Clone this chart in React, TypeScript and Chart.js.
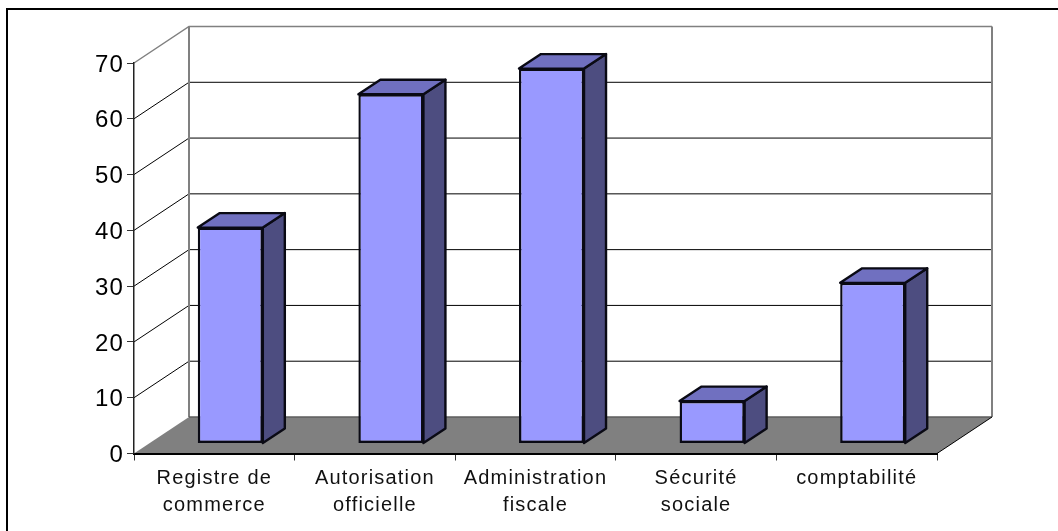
import React, { useEffect, useRef } from "react";
import { Chart, registerables } from "chart.js";

Chart.register(...registerables);

const categories = [
  ["Registre de", "commerce"],
  ["Autorisation", "officielle"],
  ["Administration", "fiscale"],
  ["Sécurité", "sociale"],
  ["comptabilité"],
];
const values = [38.7, 62.6, 67.2, 7.6, 28.8];

const WALL = { dx: 55, dy: -36.5 };
const BAR_OFFSET = { dx: 16, dy: -10 };
const BAR_DEPTH = { dx: 22, dy: -14.5 };
const GRAY = "#808080";
const FRONT = "#9999FF";
const SIDE = "#4D4D80";
const TOP = "#7070C0";
const EDGE = "#0a0a14";

const scene = {
  id: "scene",
  beforeDraw(chart: any) {
    const { ctx, scales } = chart;
    const { x, y } = scales;
    const L = x.left, R = x.right;
    const B = y.getPixelForValue(0);
    ctx.save();
    ctx.fillStyle = "#ffffff";
    ctx.fillRect(0, 0, chart.width, chart.height);
    // frame
    ctx.fillStyle = "#000";
    ctx.fillRect(6, 8, 1052, 2);
    ctx.fillRect(6, 8, 2, 523);
    // floor
    ctx.fillStyle = GRAY;
    ctx.beginPath();
    ctx.moveTo(L, B);
    ctx.lineTo(L + WALL.dx, B + WALL.dy);
    ctx.lineTo(R + WALL.dx, B + WALL.dy);
    ctx.lineTo(R, B);
    ctx.closePath();
    ctx.fill();
    // gridlines
    for (const t of y.ticks) {
      if (t.value === 0) continue;
      const py = y.getPixelForValue(t.value);
      const isTop = t.value === y.max;
      ctx.strokeStyle = isTop ? GRAY : "#000";
      ctx.lineWidth = isTop ? 1.5 : 1;
      ctx.beginPath();
      ctx.moveTo(L, py);
      ctx.lineTo(L + WALL.dx, py + WALL.dy);
      ctx.lineTo(R + WALL.dx, py + WALL.dy);
      ctx.stroke();
    }
    // wall uprights
    const T = y.getPixelForValue(y.max);
    ctx.strokeStyle = GRAY;
    ctx.lineWidth = 2;
    ctx.beginPath();
    ctx.moveTo(L + WALL.dx, T + WALL.dy);
    ctx.lineTo(L + WALL.dx, B + WALL.dy);
    ctx.moveTo(R + WALL.dx, T + WALL.dy);
    ctx.lineTo(R + WALL.dx, B + WALL.dy);
    ctx.stroke();
    // floor edges
    ctx.strokeStyle = "#5c5c5c";
    ctx.lineWidth = 1.5;
    ctx.beginPath();
    ctx.moveTo(L + WALL.dx, B + WALL.dy);
    ctx.lineTo(R + WALL.dx, B + WALL.dy);
    ctx.stroke();
    ctx.strokeStyle = "#000";
    ctx.lineWidth = 1;
    ctx.beginPath();
    ctx.moveTo(R, B);
    ctx.lineTo(R + WALL.dx, B + WALL.dy);
    ctx.stroke();
    ctx.restore();
    (ctx as any).letterSpacing = "1.2px";
  },
  beforeDatasetDraw(chart: any, args: any) {
    const { ctx } = chart;
    ctx.save();
    ctx.translate(BAR_OFFSET.dx, BAR_OFFSET.dy);
    const meta = chart.getDatasetMeta(args.index);
    ctx.lineWidth = 2.4;
    ctx.lineJoin = "round";
    ctx.strokeStyle = EDGE;
    for (const el of meta.data) {
      const { x, y, base, width } = el.getProps(["x", "y", "base", "width"], true);
      const l = x - width / 2, r = x + width / 2;
      const { dx, dy } = BAR_DEPTH;
      ctx.fillStyle = SIDE;
      ctx.beginPath();
      ctx.moveTo(r, y);
      ctx.lineTo(r + dx, y + dy);
      ctx.lineTo(r + dx, base + dy);
      ctx.lineTo(r, base);
      ctx.closePath();
      ctx.fill();
      ctx.stroke();
      ctx.fillStyle = TOP;
      ctx.beginPath();
      ctx.moveTo(l, y);
      ctx.lineTo(l + dx, y + dy);
      ctx.lineTo(r + dx, y + dy);
      ctx.lineTo(r, y);
      ctx.closePath();
      ctx.fill();
      ctx.stroke();
    }
  },
  afterDatasetDraw(chart: any) {
    chart.ctx.restore();
  },
};

export default function App() {
  const ref = useRef<HTMLCanvasElement>(null);
  useEffect(() => {
    const chart = new Chart(ref.current as HTMLCanvasElement, {
      type: "bar",
      data: {
        labels: categories as any,
        datasets: [
          {
            data: values,
            backgroundColor: FRONT,
            borderColor: EDGE,
            borderWidth: 2.4,
            borderSkipped: false,
            barPercentage: 0.405,
            categoryPercentage: 1,
            clip: false as any,
          },
        ],
      },
      options: {
        animation: false,
        responsive: false,
        layout: { padding: { left: 0, top: 63, right: 121, bottom: 0 } },
        plugins: { legend: { display: false }, tooltip: { enabled: false } },
        scales: {
          x: {
            grid: {
              drawOnChartArea: false,
              drawTicks: true,
              tickLength: 7,
              color: "#333",
              offset: true,
            },
            border: { color: "#000", width: 2 },
            ticks: {
              color: "#111",
              maxRotation: 0,
              minRotation: 0,
              autoSkip: false,
              padding: 5,
              font: { family: "'Liberation Sans', Arial, sans-serif", size: 20, lineHeight: 1.32 },
            },
            afterFit: (s: any) => {
              s.height = 77.5;
            },
          },
          y: {
            min: 0,
            max: 70,
            grid: { drawOnChartArea: false, drawTicks: true, tickLength: 7, color: "#333" },
            border: { color: "#222", width: 1.5 },
            ticks: {
              stepSize: 10,
              color: "#000",
              padding: 3,
              labelOffset: 2,
              font: { family: "'Liberation Sans', Arial, sans-serif", size: 24 },
            },
            afterFit: (s: any) => {
              s.width = 134;
            },
          },
        },
      },
      plugins: [scene],
    } as any);
    return () => chart.destroy();
  }, []);
  return (
    <canvas
      ref={ref}
      width={1058}
      height={531}
      style={{ position: "fixed", left: 0, top: 0, width: 1058, height: 531, display: "block" }}
    />
  );
}
